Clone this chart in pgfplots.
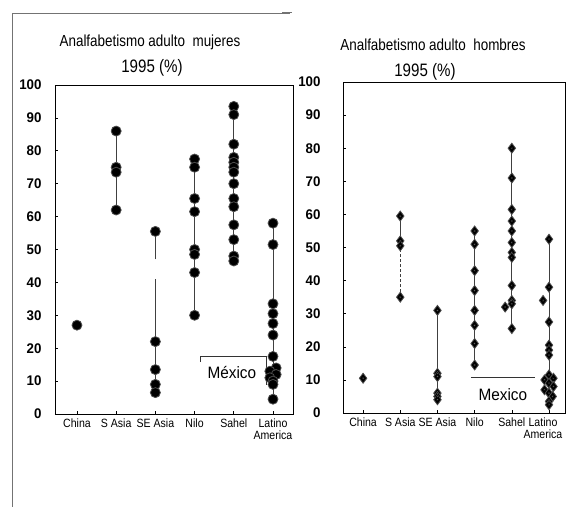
\documentclass[border=0pt]{standalone}
\usepackage{pgfplots}
\pgfplotsset{compat=1.18}
\usepackage{fontspec}
\setmainfont{Liberation Sans}
\newfontfamily\titlefont{Liberation Sans}[FakeStretch=0.84]
\newfontfamily\catfont{Liberation Sans}[FakeStretch=0.88]
\newfontfamily\mexfont{Liberation Sans}[FakeStretch=0.93]
\newfontfamily\tickfont{Liberation Sans}[FakeStretch=0.95]

\pgfplotstableread{
x y
0 27
1 86
1 75
1 73.5
1 62
2 55.5
2 22
2 13.5
2 9
2 6.5
3 77.5
3 75
3 65.5
3 61.5
3 50
3 48.5
3 43
3 30
4 93.5
4 91
4 82
4 78
4 76.5
4 75
4 73.5
4 70
4 65.5
4 63
4 57.5
4 53
4 48
4 46.5
5 58
5 51.5
5 33.5
5 30.5
5 27.5
5 24
5 17.5
5.08 14
4.92 13
5.08 12
4.92 11
5 10
5 9
5 4.5
}\mujeres

\pgfplotstableread{
x y
0 10.5
1 59.5
1 52
1 50.5
1 35
2 31
2 12
2 11
2 6
2 5
2 4
3 55
3 51
3 43
3 37
3 31
3 26.5
3 21
3 14.5
4 80
4 71
4 61.5
4 58
4 55
4 51.5
4 48.5
4 47
4 38.5
4 34
4 33
3.82 32
4 25.5
5 52.5
5 38
4.84 34
5 27.5
5 20.5
5 19
5 17.5
5 11.5
5.12 10.5
4.88 10
5 9
5.12 8
4.88 7
5 6
5.1 5
5 3.5
5 2.5
}\hombres

\pgfplotsset{
  panel/.style={
    scale only axis,
    ymin=0, ymax=100,
    ytick={0,10,...,100},
    xtick={0,1,2,3,4,5},
    xticklabel style={align=center, font=\catfont\fontsize{12}{12.5}\selectfont, yshift=-1pt},
    yticklabel style={font=\tickfont\bfseries\fontsize{14}{15}\selectfont},
    /pgf/number format/assume math mode=true,
    tick align=inside,
    major tick length=3pt,
    xtick pos=bottom, ytick pos=left,
    axis line style={black, line width=0.8pt},
    tick style={black, line width=0.6pt},
    clip=false,
  },
  vline/.style={black!75, line width=0.7pt},
}

\begin{document}
\begin{tikzpicture}
\path[use as bounding box] (0pt,0pt) rectangle (566pt,515pt);
% page frame remnants
\draw[black!55, line width=0.7pt] (12pt,501pt) -- (12pt,8pt);
\draw[black!55, line width=0.7pt] (12pt,502pt) -- (290pt,502pt);
\draw[black!55, line width=0.7pt] (282pt,503pt) -- (292pt,503pt);

% titles
\node[font=\titlefont\fontsize{16}{18}\selectfont] at (150pt,473pt) {Analfabetismo adulto\ \ mujeres};
\node[font=\titlefont\fontsize{18}{20}\selectfont] at (152pt,447pt) {1995 (\%)};
\node[font=\titlefont\fontsize{16}{18}\selectfont] at (433pt,470pt) {Analfabetismo adulto\ \ hombres};
\node[font=\titlefont\fontsize{18}{20}\selectfont] at (425pt,443pt) {1995 (\%)};

% left panel
\begin{axis}[panel, at={(55pt,101pt)}, anchor=south west,
  width=238pt, height=329pt, xmin=-0.56, xmax=5.51,
  xticklabels={China,S Asia,SE Asia,Nilo,Sahel,{Latino\\America}},
  yticklabel style={xshift=-10pt}]
\addplot[vline] coordinates {(1,62) (1,86)};
\addplot[vline] coordinates {(2,6.5) (2,41)};
\addplot[vline] coordinates {(2,47) (2,55.5)};
\addplot[vline] coordinates {(3,30) (3,77.5)};
\addplot[vline] coordinates {(4,46.5) (4,93.5)};
\addplot[vline] coordinates {(5,4.5) (5,58)};
\addplot[only marks, mark=*, mark size=5pt,
  mark options={fill=black, draw=black!70, line width=0.8pt}] table {\mujeres};
\draw[black!80, line width=0.7pt] (axis cs:3.14,15.8) -- (axis cs:3.14,17.6)
  -- (axis cs:4.82,17.6) -- (axis cs:4.82,8.8);
\node[font=\mexfont\fontsize{16.5}{18}\selectfont] at (axis cs:3.95,12.6) {México};
\end{axis}

% right panel
\begin{axis}[panel, at={(343pt,102pt)}, anchor=south west,
  width=222pt, height=331pt, xmin=-0.54, xmax=5.43,
  xticklabels={China,S Asia,SE Asia,Nilo,Sahel,{\makebox[0pt][c]{\hspace{-12pt}Latino}\\\makebox[0pt][c]{\hspace{-12pt}America}}},
  yticklabel style={xshift=-19pt}]
\addplot[vline] coordinates {(1,50.5) (1,59.5)};
\addplot[vline, densely dashed] coordinates {(1,35) (1,50.5)};
\addplot[vline] coordinates {(2,4) (2,31)};
\addplot[vline] coordinates {(3,14.5) (3,55)};
\addplot[vline] coordinates {(4,25.5) (4,80)};
\addplot[vline] coordinates {(5,2.5) (5,52.5)};
\addplot[only marks, mark=diamond*, mark size=5pt,
  mark options={fill=black, draw=black!70, line width=0.8pt}] table {\hombres};
\addplot[only marks, mark=*, mark size=1pt,
  mark options={fill=black!40, draw=none}] table {\hombres};
\draw[black!80, line width=0.7pt] (axis cs:2.9,10.7) -- (axis cs:4.62,10.7);
\node[font=\mexfont\fontsize{16.5}{18}\selectfont] at (axis cs:3.76,5.6) {Mexico};
\end{axis}
\end{tikzpicture}
\end{document}
